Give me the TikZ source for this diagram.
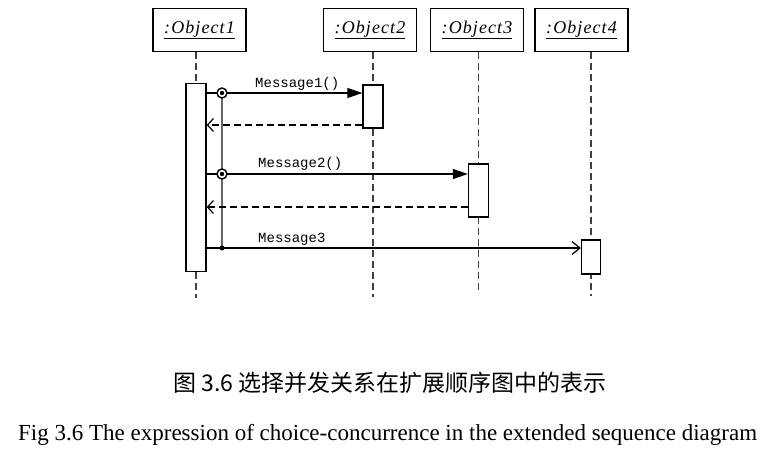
\documentclass[tikz,border=0pt]{standalone}
\usepackage{fontspec}
\setmainfont{Liberation Serif}
\setmonofont{Liberation Mono}
\newfontfamily\cjk{Noto Sans CJK SC}
\usepackage{tikz}
\usetikzlibrary{positioning}
\usetikzlibrary{arrows.meta}

\begin{document}
\begin{tikzpicture}[x=1pt,y=-1pt]
\tikzstyle{object}=[rectangle, draw=black, line width=1.2pt, inner sep=0pt, minimum width=93pt, minimum height=43pt, font=\fontsize{18}{18}\selectfont\itshape\addfontfeature{LetterSpace=6}]
\tikzstyle{activ}=[rectangle, draw=black, line width=1.3pt, fill=white, inner sep=0pt, minimum width=20pt]
\tikzstyle{life}=[line width=1.2pt, dash pattern=on 7pt off 4pt, black!75]
\tikzstyle{msg}=[font=\ttfamily\fontsize{14}{14}\selectfont, anchor=base west, inner sep=0pt]
\tikzstyle{call}=[line width=1.2pt, -{Triangle[length=15pt,width=10pt]}]
\tikzstyle{back}=[line width=1.2pt, dash pattern=on 7pt off 4pt, -{Straight Barb[length=6pt,width=13pt]}]
\tikzstyle{async}=[line width=1.2pt, -{Straight Barb[length=8pt,width=13pt]}]
\useasboundingbox (0,0) rectangle (778,453);
	\node[object] (obj_1) at (199.5,30) {\underline{:Object1}};
	\node[object] (obj_2) at (370,30) {\underline{:Object2}};
	\node[object] (obj_3) at (477,30) {\underline{:Object3}};
	\node[object] (obj_4) at (581.5,30) {\underline{:Object4}};
	\coordinate (end_1) at (196,298);
	\coordinate (end_2) at (373,297);
	\coordinate (end_3) at (478.5,290);
	\coordinate (end_4) at (591,296);
	
	\draw[life] (obj_1.south -| end_1) -- (end_1);
	\draw[life] (obj_2.south -| end_2) -- (end_2);
	\draw[life] (obj_3.south -| end_3) -- (end_3);
	\draw[life] (obj_4.south -| end_4) -- (end_4);
	
	\node[activ, minimum height=188pt] (act_1) at (196,177.5) {};
	\node[activ, minimum height=43pt] (act_2) at (373,106.5) {};
	\node[activ, minimum height=53pt] (act_3) at (478.5,190.5) {};
	\node[activ, minimum height=34pt, minimum width=19pt] (act_4) at (591,257) {};
	
	\coordinate (c_1) at (222,93);
	\coordinate (c_2) at (222,174);
	\coordinate (c_3) at (222,248);
	\draw[line width=1.2pt, black!60] (c_1) -- (c_3);
	
	\draw[call] (act_1.east |- c_1) -- (act_2.west |- c_1);
	\draw[back] (act_2.west |- 0,125) -- (act_1.east |- 0,125);
	\draw[call] (act_1.east |- c_2) -- (act_3.west |- c_2);
	\draw[back] (act_3.west |- 0,207) -- (act_1.east |- 0,207);
	\draw[async] (act_1.east |- c_3) -- (act_4.west |- c_3);
	
	\draw[line width=1.4pt, fill=white] (c_1) circle (5pt);
	\fill (c_1) circle (2.2pt);
	\draw[line width=1.4pt, fill=white] (c_2) circle (5pt);
	\fill (c_2) circle (2.2pt);
	\fill (c_3) circle (2.5pt);
	
	\node[msg] (m_1) at (255,87) {Message1()};
	\node[msg] (m_2) at (258,167) {Message2()};
	\node[msg] (m_3) at (258,242) {Message3};
	
	\node[font=\cjk\fontsize{23}{23}\selectfont] (cap_cn) at (390,383) {图 3.6 选择并发关系在扩展顺序图中的表示};
	\node[font=\fontsize{23}{23}\selectfont, anchor=base west, inner sep=0pt] (cap_en) at (18,440) {Fig 3.6 The expression of choice-concurrence in the extended sequence diagram};
\end{tikzpicture}
\end{document}
